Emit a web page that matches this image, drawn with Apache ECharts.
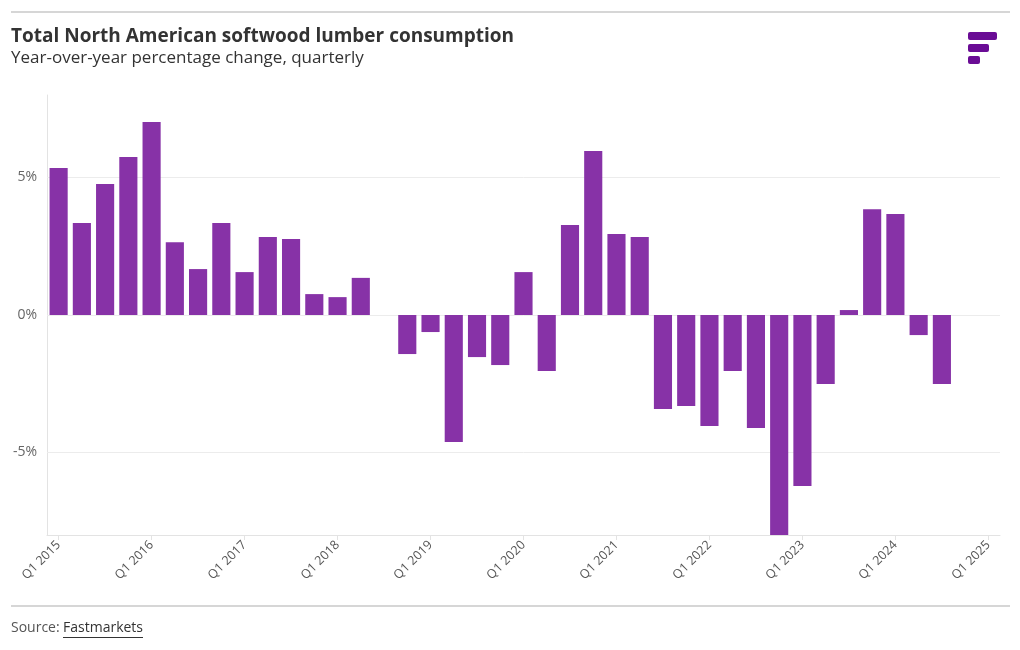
<!DOCTYPE html>
<html><head><meta charset="utf-8">
<script src="https://cdn.jsdelivr.net/npm/echarts@6/dist/echarts.min.js"></script>
<style>html,body{margin:0;padding:0;background:#fff;}#c{width:1020px;height:650px;}</style>
</head><body><div id="c"></div>
<script>
const categories = [
 'Q1 2015','Q2 2015','Q3 2015','Q4 2015',
 'Q1 2016','Q2 2016','Q3 2016','Q4 2016',
 'Q1 2017','Q2 2017','Q3 2017','Q4 2017',
 'Q1 2018','Q2 2018','Q3 2018','Q4 2018',
 'Q1 2019','Q2 2019','Q3 2019','Q4 2019',
 'Q1 2020','Q2 2020','Q3 2020','Q4 2020',
 'Q1 2021','Q2 2021','Q3 2021','Q4 2021',
 'Q1 2022','Q2 2022','Q3 2022','Q4 2022',
 'Q1 2023','Q2 2023','Q3 2023','Q4 2023',
 'Q1 2024','Q2 2024','Q3 2024','Q4 2024',
 'Q1 2025'];
const yoyChange = [
 5.35, 3.35, 4.76, 5.75,
 7.02, 2.65, 1.67, 3.35,
 1.56, 2.84, 2.76, 0.76,
 0.65, 1.35, null, -1.42,
 -0.62, -4.62, -1.53, -1.82,
 1.56, -2.04, 3.27, 5.96,
 2.95, 2.84, -3.42, -3.31,
 -4.04, -2.04, -4.11, -8.0,
 -6.22, -2.51, 0.18, 3.85,
 3.67, -0.73, -2.51, null,
 null];
const gridValues = [-5, 0, 5];

const FONT = '"Open Sans", Lato, sans-serif';
const mc = document.createElement('canvas').getContext('2d');
mc.font = '14px ' + FONT;
const srcLabelW = Math.round(mc.measureText('Source: ').width);
const srcW = Math.round(mc.measureText('Fastmarkets').width);

const chart = echarts.init(document.getElementById('c'), null, {renderer:'canvas'});
chart.setOption({
  animation:false,
  backgroundColor:'#fff',
  grid:{left:47, right:20, top:95, bottom:115, containLabel:false},
  xAxis:{
    type:'category', data:categories, boundaryGap:true,
    axisLine:{show:true, onZero:false, lineStyle:{color:'#e3e3e3', width:1}},
    axisTick:{show:true, interval:3, alignWithLabel:true, length:5, lineStyle:{color:'#e3e3e3'}},
    axisLabel:{interval:3, rotate:45, color:'#555', fontFamily:FONT, fontSize:12.5, margin:8}
  },
  yAxis:{
    type:'value', min:-8, max:8, interval:1,
    axisLine:{show:true, lineStyle:{color:'#e3e3e3'}},
    axisTick:{show:false},
    splitLine:{show:false},
    axisLabel:{color:'#666', fontFamily:FONT, fontSize:14, margin:10,
      formatter:v => (v % 5 === 0) ? v + '%' : ''}
  },
  series:[
    {
      type:'line', data:[], z:1, silent:true, showSymbol:false,
      markLine:{silent:true, symbol:'none', label:{show:false}, animation:false,
        lineStyle:{color:'#ececec', type:'solid', width:1},
        data: gridValues.map(v => ({yAxis:v}))
      }
    },
    {
      type:'bar', data:yoyChange, barCategoryGap:'22%', z:5,
      itemStyle:{color:'#8732a7'}
    }
  ],
  graphic:[
    {type:'rect', shape:{x:11,y:11,width:999,height:2}, style:{fill:'#d6d6d6'}},
    {type:'text', left:11, top:27, style:{text:'Total North American softwood lumber consumption', font:'bold 19px '+FONT, fill:'#333'}},
    {type:'text', left:11, top:50, style:{text:'Year-over-year percentage change, quarterly', font:'17px '+FONT, fill:'#333'}},
    {type:'rect', shape:{x:968,y:32,width:29,height:8,r:2}, style:{fill:'#6a0c95'}},
    {type:'rect', shape:{x:968,y:44,width:21,height:8,r:2}, style:{fill:'#6a0c95'}},
    {type:'rect', shape:{x:968,y:56,width:12,height:8,r:2}, style:{fill:'#6a0c95'}},
    {type:'rect', shape:{x:11,y:605,width:999,height:2}, style:{fill:'#d6d6d6'}},
    {type:'text', left:11, top:621, style:{text:'Source: ', font:'14px '+FONT, fill:'#555'}},
    {type:'text', left:11+srcLabelW, top:621, style:{text:'Fastmarkets', font:'14px '+FONT, fill:'#333'}},
    {type:'rect', shape:{x:11+srcLabelW,y:637,width:srcW,height:1}, style:{fill:'#333'}}
  ]
});
</script></body></html>
